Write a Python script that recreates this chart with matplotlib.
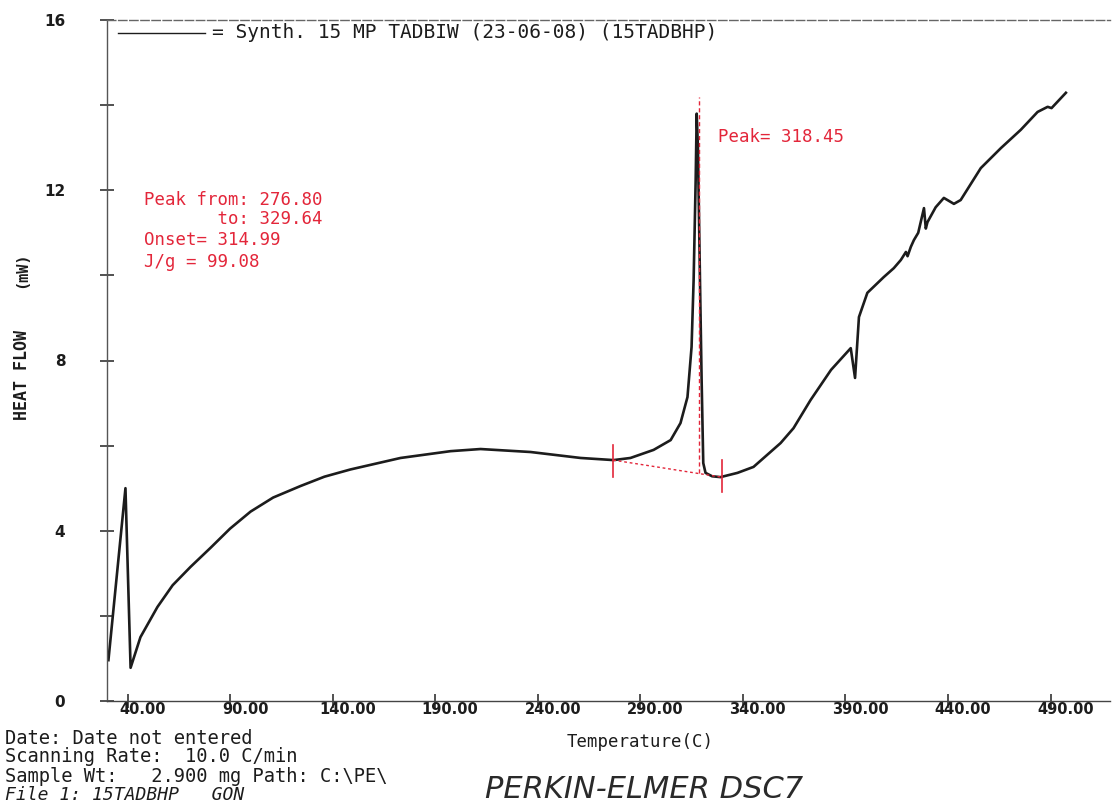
import matplotlib
matplotlib.use("Agg")
import matplotlib.pyplot as plt
import matplotlib.transforms as mtransforms

# DSC trace (temperature in C, heat flow in mW)
temp = [30.7, 39.0, 41.5, 46.3, 54.6, 62.0, 70.7, 80.5, 90.0, 100.0,
        111.0, 124.3, 136.0, 148.7, 173.1, 197.5, 212.1, 236.5, 260.9, 277.0,
        285.2, 296.5, 304.8, 309.6, 313.0, 315.0, 316.0, 317.0, 317.5, 318.1,
        319.1, 319.9, 320.7, 321.8, 325.0, 329.1, 337.4, 345.2, 358.4, 364.7,
        373.0, 383.0, 392.6, 394.7, 396.6, 400.7, 408.7, 413.6, 417.0, 419.5,
        420.3, 421.9, 423.4, 425.5, 428.3, 429.2, 430.0, 434.0, 438.0, 442.9,
        446.2, 456.0, 465.8, 475.5, 483.7, 488.6, 490.5, 497.5]
heat = [0.96, 5.00, 0.78, 1.50, 2.21, 2.72, 3.15, 3.60, 4.05, 4.45,
        4.78, 5.05, 5.27, 5.44, 5.71, 5.87, 5.92, 5.85, 5.71, 5.66,
        5.71, 5.90, 6.13, 6.53, 7.14, 8.32, 9.89, 12.24, 13.80, 13.00,
        9.89, 7.54, 5.59, 5.36, 5.28, 5.26, 5.36, 5.50, 6.06, 6.41,
        7.07, 7.78, 8.29, 7.59, 9.02, 9.59, 9.96, 10.17, 10.36, 10.55,
        10.45, 10.67, 10.83, 11.00, 11.58, 11.10, 11.25, 11.60, 11.82, 11.68,
        11.77, 12.52, 12.99, 13.42, 13.84, 13.96, 13.93, 14.29]

# peak analysis
peak_from = 276.80
peak_to = 329.64
peak_t = 318.45
base_from = 5.66
base_to = 5.26
onset = 314.99
jg = 99.08

xticks = [40, 90, 140, 190, 240, 290, 340, 390, 440, 490]
yticks = [0, 2, 4, 6, 8, 10, 12, 14, 16]

RED = "#e3263a"
INK = "#1c1c1c"
MONO = "DejaVu Sans Mono"

fig = plt.figure(figsize=(11.13, 8.07), dpi=100)
ax = fig.add_axes([107/1113, 106/807, 1003/1113, 681/807])

ax.plot(temp, heat, color=INK, lw=1.9, solid_joinstyle="round")

# baseline and peak markers
ax.plot([peak_from, peak_to], [base_from, base_to], color=RED, lw=1, ls=(0, (2, 2)))
ax.plot([peak_t, peak_t], [5.36, 14.2], color=RED, lw=1, ls=(0, (3, 2)))
ax.plot([peak_from, peak_from], [5.26, 6.02], color=RED, lw=1.2)
ax.plot([peak_to, peak_to], [4.91, 5.66], color=RED, lw=1.2)

ax.set_xlim(30, 519)
ax.set_ylim(0, 16)

ax.set_xticks(xticks)
ax.set_xticklabels(["%.2f" % t for t in xticks], fontsize=10.5, fontweight="bold", color=INK)
ax.set_yticks(yticks)
ax.set_yticklabels([str(v) if v % 4 == 0 else "" for v in yticks],
                   fontsize=11, fontweight="bold", color=INK)
ax.tick_params(axis="both", direction="inout", length=10, width=1.2, colors="#333333")
ax.tick_params(axis="y", pad=25, labelcolor=INK)
ax.tick_params(axis="x", pad=-4, labelcolor=INK)

# labels sit a bit right of their tick on the plotter output
off = mtransforms.ScaledTranslation(15/100, 0, fig.dpi_scale_trans)
for lab in ax.get_xticklabels():
    lab.set_transform(lab.get_transform() + off)

ax.spines["right"].set_visible(False)
ax.spines["left"].set_color("#555555")
ax.spines["left"].set_linewidth(1.0)
ax.spines["bottom"].set_color("#444444")
ax.spines["bottom"].set_linewidth(1.0)
ax.spines["top"].set_color("#666666")
ax.spines["top"].set_linewidth(1.0)
ax.spines["top"].set_linestyle((0, (6, 2)))

# legend line
ax.plot([0.011, 0.098], [0.981, 0.981], color=INK, lw=1, transform=ax.transAxes, clip_on=False)
ax.text(0.105, 0.981, "= Synth. 15 MP TADBIW (23-06-08) (15TADBHP)", transform=ax.transAxes,
        family=MONO, fontsize=14, color=INK, va="center", ha="left")

# red annotations
ax.text(0.037, 0.736, "Peak from: %.2f" % peak_from, transform=ax.transAxes,
        family=MONO, fontsize=12.5, color=RED, va="center")
ax.text(0.037, 0.708, "       to: %.2f" % peak_to, transform=ax.transAxes,
        family=MONO, fontsize=12.5, color=RED, va="center")
ax.text(0.037, 0.677, "Onset= %.2f" % onset, transform=ax.transAxes,
        family=MONO, fontsize=12.5, color=RED, va="center")
ax.text(0.037, 0.645, "J/g = %.2f" % jg, transform=ax.transAxes,
        family=MONO, fontsize=12.5, color=RED, va="center")
ax.text(0.609, 0.828, "Peak= %.2f" % peak_t, transform=ax.transAxes,
        family=MONO, fontsize=12.5, color=RED, va="center")

# axis titles
fig.text(22/1113, 1 - 375/807, "HEAT FLOW", rotation=90, family=MONO, fontsize=12,
         fontweight="bold", color=INK, ha="center", va="center")
fig.text(22/1113, 1 - 270/807, "(mW)", rotation=90, family=MONO, fontsize=11,
         fontweight="bold", color=INK, ha="center", va="center")
fig.text(640/1113, 1 - 742/807, "Temperature(C)", family=MONO, fontsize=12.5,
         color=INK, ha="center", va="center")

# footer info
fig.text(5/1113, 1 - 738/807, "Date: Date not entered", family=MONO, fontsize=13.5,
         color=INK, va="center")
fig.text(5/1113, 1 - 757/807, "Scanning Rate:  10.0 C/min", family=MONO, fontsize=13.5,
         color=INK, va="center")
fig.text(5/1113, 1 - 777/807, "Sample Wt:   2.900 mg Path: C:\\PE\\", family=MONO,
         fontsize=13.5, color=INK, va="center")
fig.text(5/1113, 1 - 795/807, "File 1: 15TADBHP   GON", family=MONO, fontsize=13,
         style="italic", color=INK, va="center")
fig.text(485/1113, 1 - 789/807, "PERKIN-ELMER DSC7", fontsize=22, style="italic",
         fontweight="light", color="#2a2a2a", va="center")

fig.savefig("out.png", dpi=100)
